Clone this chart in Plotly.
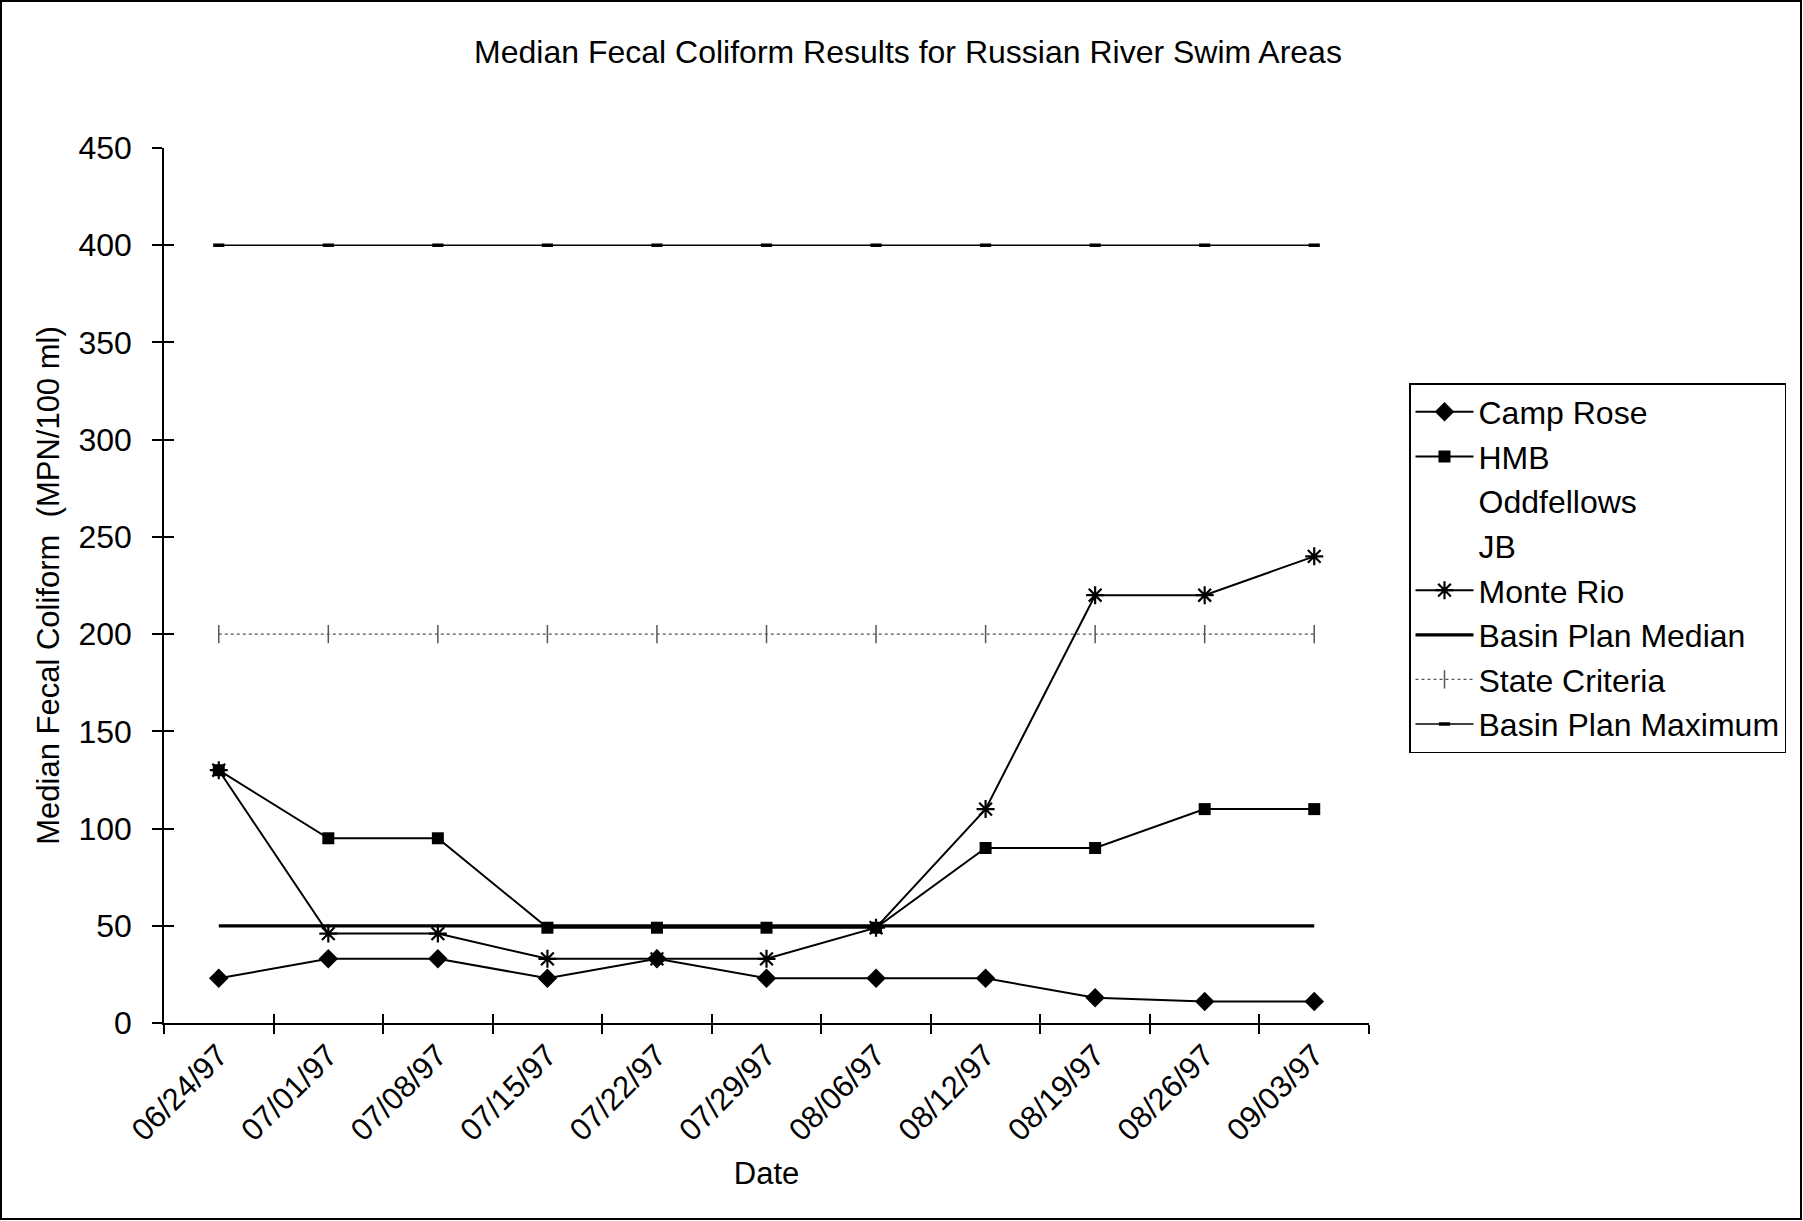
import plotly.graph_objects as go

dates = ["06/24/97", "07/01/97", "07/08/97", "07/15/97", "07/22/97", "07/29/97",
         "08/06/97", "08/12/97", "08/19/97", "08/26/97", "09/03/97"]

camp_rose = [23, 33, 33, 23, 33, 23, 23, 23, 13, 11, 11]
hmb = [130, 95, 95, 49, 49, 49, 49, 90, 90, 110, 110]
oddfellows = [None] * 11
jb = [None] * 11
monte_rio = [130, 46, 46, 33, 33, 33, 49, 110, 220, 220, 240]
basin_plan_median = [50] * 11
state_criteria = [200] * 11
basin_plan_maximum = [400] * 11

FONT = "Liberation Sans, Arial, Helvetica, sans-serif"

fig = go.Figure()

fig.add_trace(go.Scatter(x=dates, y=camp_rose, name="Camp Rose", mode="lines+markers",
                         line=dict(color="black", width=2),
                         marker=dict(symbol="diamond", size=15, color="black")))
fig.add_trace(go.Scatter(x=dates, y=hmb, name="HMB", mode="lines+markers",
                         line=dict(color="black", width=2),
                         marker=dict(symbol="square", size=12, color="black")))
fig.add_trace(go.Scatter(x=dates, y=oddfellows, name="Oddfellows", mode="lines",
                         line=dict(color="white", width=2)))
fig.add_trace(go.Scatter(x=dates, y=jb, name="JB", mode="lines",
                         line=dict(color="white", width=2)))
fig.add_trace(go.Scatter(x=dates, y=monte_rio, name="Monte Rio", mode="lines+markers",
                         line=dict(color="black", width=2),
                         marker=dict(symbol="asterisk-open", size=15,
                                     line=dict(color="black", width=2.2))))
fig.add_trace(go.Scatter(x=dates, y=basin_plan_median, name="Basin Plan Median", mode="lines",
                         line=dict(color="black", width=3.2)))
fig.add_trace(go.Scatter(x=dates, y=state_criteria, name="State Criteria", mode="lines+markers",
                         line=dict(color="#555555", width=1.3, dash="dot"),
                         marker=dict(symbol="line-ns-open", size=13,
                                     line=dict(color="black", width=1.5))))
fig.add_trace(go.Scatter(x=dates, y=basin_plan_maximum, name="Basin Plan Maximum",
                         mode="lines+markers", xaxis="x2", yaxis="y2",
                         line=dict(color="black", width=1.5),
                         marker=dict(symbol="line-ew-open", size=8,
                                     line=dict(color="black", width=3.5))))

W, H = 1803, 1221
L, R, T, B = 164, 434, 148, 198
pw = W - L - R
ph = H - T - B

fig.update_layout(
    width=W, height=H,
    margin=dict(l=L, r=R, t=T, b=B, pad=0),
    paper_bgcolor="white", plot_bgcolor="white",
    font=dict(family=FONT, size=31, color="black"),
    title=dict(text="Median Fecal Coliform Results for Russian River Swim Areas",
               x=908 / W, xanchor="center", xref="container",
               y=1 - 52 / H, yanchor="middle", yref="container",
               font=dict(size=32, family=FONT, color="black")),
    showlegend=True,
    legend=dict(x=(1409 - L) / pw, y=(H - B - 383) / ph, xanchor="left", yanchor="top",
                bordercolor="black", borderwidth=1.5, bgcolor="white",
                font=dict(size=32, family=FONT, color="black"),
                itemwidth=58, tracegroupgap=0),
    xaxis=dict(type="category", categoryorder="array", categoryarray=dates,
               range=[-0.5, 10.5], showline=True, linecolor="black", linewidth=1.5,
               ticks="outside", ticklen=9, tickwidth=1.5, tickcolor="black",
               tickson="boundaries", tickangle=-45, showgrid=False, zeroline=False,
               tickfont=dict(size=31),
               title=dict(text="Date", font=dict(size=31), standoff=16)),
    xaxis2=dict(type="category", matches="x", overlaying="x", anchor="y2",
                ticks="inside", ticklen=9, tickwidth=1.5, tickcolor="black",
                tickson="boundaries", showticklabels=False, showline=False,
                showgrid=False, zeroline=False),
    yaxis=dict(range=[0, 450], dtick=50, showline=True, linecolor="black", linewidth=1.5,
               ticks="outside", ticklen=10, tickwidth=1.5, tickcolor="black",
               showgrid=False, zeroline=False, ticklabelstandoff=14,
               tickfont=dict(size=32),
               title=dict(text="Median Fecal Coliform  (MPN/100 ml)", font=dict(size=31),
                          standoff=10)),
    yaxis2=dict(matches="y", overlaying="y", anchor="x2", side="left",
                ticks="inside", ticklen=10, tickwidth=1.5, tickcolor="black",
                showticklabels=False, showline=False, showgrid=False, zeroline=False),
    shapes=[dict(type="rect", xref="paper", yref="paper",
                 x0=(1 - L) / pw, x1=(W - 2 - L) / pw,
                 y0=-(B - 2) / ph, y1=(H - B - 1) / ph,
                 line=dict(color="black", width=2), fillcolor="rgba(0,0,0,0)")],
)

fig.write_html("out.html", config={"displayModeBar": False},
               post_script="document.body.style.margin='0px';")
